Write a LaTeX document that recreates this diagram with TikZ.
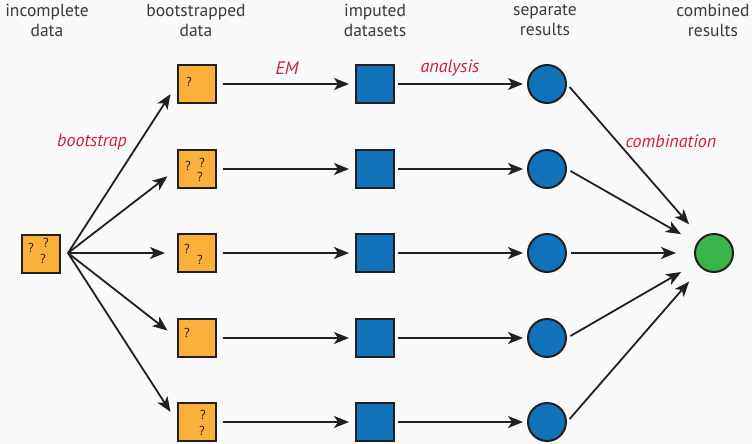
\documentclass[tikz,border=0pt]{standalone}
\usepackage{fontspec}
\setmainfont{PT Sans}
\usepackage{tikz}
\usetikzlibrary{arrows.meta,shapes}
\definecolor{boxorange}{RGB}{251,176,59}
\definecolor{impblue}{RGB}{17,114,186}
\definecolor{combgreen}{RGB}{57,181,74}
\definecolor{labelred}{RGB}{206,32,58}
\definecolor{ink}{RGB}{35,31,32}
\definecolor{headgray}{RGB}{58,58,60}
\tikzstyle{databox}=[rectangle,fill=boxorange,draw=ink,line width=2pt,minimum size=38pt,inner sep=0pt]
\tikzstyle{impbox}=[rectangle,fill=impblue,draw=ink,line width=2pt,minimum size=38pt,inner sep=0pt]
\tikzstyle{result}=[circle,fill=impblue,draw=ink,line width=2pt,minimum size=38pt,inner sep=0pt]
\tikzstyle{combined}=[circle,fill=combgreen,draw=ink,line width=2pt,minimum size=38pt,inner sep=0pt]
\tikzstyle{qmark}=[inner sep=0pt,text=ink,font=\fontsize{13}{13}\selectfont]
\tikzstyle{header}=[align=center,inner sep=0pt,text=headgray,font=\fontsize{17.5}{20}\selectfont]
\tikzstyle{steplabel}=[text=labelred,inner sep=0pt,font=\fontsize{18}{20}\selectfont\itshape]
\tikzstyle{edge} = [draw,line width=1.8pt,ink,-{Stealth[length=15pt,width=12pt,inset=4pt]}]

\begin{document}
\begin{tikzpicture}[x=1pt,y=-1pt]

    \useasboundingbox (0,0) rectangle (752,444);
    \fill[white!98!black] (0,0) rectangle (752,444);

    % headers
    \foreach \x/\name/\txt in {47/hin/{incomplete\\data}, 196/hboot/{bootstrapped\\data},
        375/himp/{imputed\\datasets}, 545/hsep/{separate\\results}, 713/hcomb/{combined\\results}}
        \node[header, anchor=north] (\name) at (\x,4) {\txt};

    % incomplete data
    \node[databox] (in) at (41,254) {};
    \coordinate (fan) at (68,253);

    % one row per bootstrap sample
    \foreach \y/\i in {84/1, 169/2, 253/3, 338/4, 422/5}
    {
        \node[databox] (b\i) at (197,\y) {};
        \node[impbox] (m\i) at (375,\y) {};
        \node[result] (r\i) at (547,\y) {};
    }

    \node[combined] (g) at (714,253) {};

    % missing values
    \foreach \b/\dx/\dy/\k in {in/-10/-6/a, in/5/-11/b, in/2/5/c, b1/-8/-2/d,
        b2/-9/-3/e, b2/5/-6/f, b2/3/8/g, b3/-10/-4/h, b3/3/7/i, b4/-10/-5/j,
        b5/6/-7/k, b5/5/9/l}
        \node[qmark] (q\k) at ([shift={(\dx,\dy)}]\b) {?};

    % connectors
    \foreach \i in {1,...,5}
    {
        \path[edge, shorten >=12pt] (fan) -- (b\i.west);
        \path[edge, shorten <=6pt, shorten >=6pt] (b\i) -- (m\i);
        \path[edge, shorten <=3pt, shorten >=4pt] (m\i) -- (r\i);
        \path[edge, shorten <=4pt, shorten >=18pt] (r\i.east) -- (g);
    }

    % step labels
    \node[steplabel] (lboot) at (92,142) {bootstrap};
    \node[steplabel] (lem) at (287,68) {EM};
    \node[steplabel] (lana) at (450,68) {analysis};
    \node[steplabel] (lcomb) at (671,141) {combination};

\end{tikzpicture}
\end{document}
